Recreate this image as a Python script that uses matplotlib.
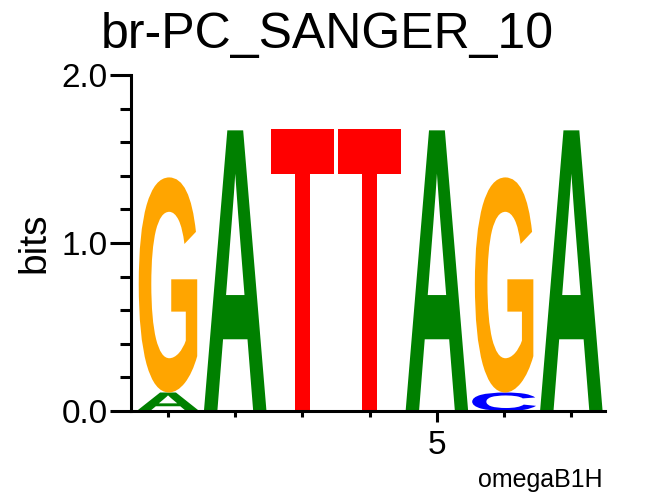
import matplotlib
matplotlib.use("Agg")
import matplotlib.pyplot as plt
from matplotlib.textpath import TextPath
from matplotlib.patches import PathPatch
from matplotlib.font_manager import FontProperties
from matplotlib.transforms import Affine2D
from matplotlib.ticker import MultipleLocator

# Logo data (bits per letter at each position)
positions = [1, 2, 3, 4, 5, 6, 7]
a_bits = [0.11, 1.67, 0.0, 0.0, 1.67, 0.0, 1.67]
c_bits = [0.0, 0.0, 0.0, 0.0, 0.0, 0.11, 0.0]
g_bits = [1.28, 0.0, 0.0, 0.0, 0.0, 1.28, 0.0]
t_bits = [0.0, 0.0, 1.68, 1.68, 0.0, 0.0, 0.0]

title = "br-PC_SANGER_10"
y_label = "bits"
footer = "omegaB1H"

colors = {'A': '#008000', 'C': '#0000ff', 'G': '#ffa500', 'T': '#ff0000'}
widths = {'A': 0.93, 'C': 0.95, 'G': 0.87, 'T': 0.94}
font = FontProperties(family='Liberation Sans', weight='bold')


def draw_letter(ax, letter, x, y0, h):
    """Stretch a glyph so that it fills its box in data coordinates."""
    tp = TextPath((0, 0), letter, size=1, prop=font)
    bb = tp.get_extents()
    w = widths[letter]
    tr = (Affine2D()
          .translate(-bb.x0, -bb.y0)
          .scale(w / bb.width, h / bb.height)
          .translate(x - w / 2, y0))
    patch = PathPatch(tr.transform_path(tp), facecolor=colors[letter],
                      edgecolor='none', lw=0)
    ax.add_patch(patch)


fig = plt.figure(figsize=(6.54, 4.96), dpi=100)
ax = fig.add_axes([0.2003, 0.1714, 0.7247, 0.6776])

for i, x in enumerate(positions):
    stack = [('A', a_bits[i]), ('C', c_bits[i]), ('G', g_bits[i]), ('T', t_bits[i])]
    stack = sorted([s for s in stack if s[1] > 0], key=lambda s: s[1])
    y = 0.0
    for letter, h in stack:
        draw_letter(ax, letter, x, y, h)
        y += h

ax.set_xlim(0.45, 7.5)
ax.set_ylim(0, 2.0)

for side in ['top', 'right']:
    ax.spines[side].set_visible(False)
for side in ['left', 'bottom']:
    ax.spines[side].set_linewidth(2.2)

ax.yaxis.set_minor_locator(MultipleLocator(0.2))
ax.set_yticks([0, 1, 2])
ax.set_yticklabels(['0.0', '1.0', '2.0'], fontsize=24, family='Liberation Sans')
ax.tick_params(axis='y', which='major', length=15, width=2.2, direction='out', pad=2)
ax.tick_params(axis='y', which='minor', length=8, width=2.2, direction='out')

ax.set_xticks([5])
ax.set_xticks(positions, minor=True)
ax.set_xticklabels(['5'], fontsize=24, family='Liberation Sans')
ax.tick_params(axis='x', which='major', length=8, width=2.2, direction='out', pad=6)
ax.tick_params(axis='x', which='minor', length=4, width=2.2, direction='out')

ax.set_ylabel(y_label, fontsize=28, family='Liberation Sans', labelpad=6)
fig.text(0.5, 0.93, title, ha='center', va='center', fontsize=36, family='Liberation Sans')
fig.text(0.922, 0.032, footer, ha='right', va='center', fontsize=18, family='Liberation Sans')

fig.savefig('out.png', dpi=100)
